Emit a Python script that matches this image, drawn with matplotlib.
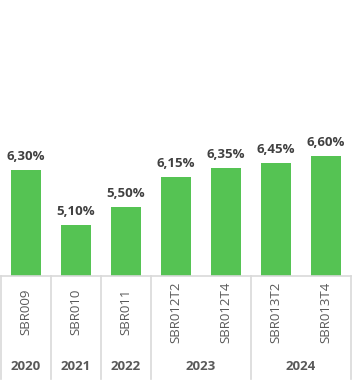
import matplotlib.pyplot as plt
import matplotlib.transforms as mtransforms

codes = ['SBR009', 'SBR010', 'SBR011', 'SBR012T2', 'SBR012T4', 'SBR013T2', 'SBR013T4']
rates = [6.30, 5.10, 5.50, 6.15, 6.35, 6.45, 6.60]
years = ['2020', '2021', '2022', '2023', '2024']
year_sizes = [1, 1, 1, 2, 2]

W, H = 355, 381
fig = plt.figure(figsize=(W / 100, H / 100), dpi=100)
ax = fig.add_axes([1 / W, (H - 276) / H, 350 / W, 276 / H])

x = list(range(len(codes)))
ax.bar(x, rates, width=0.6, color='#55C353', zorder=2)
ax.set_xlim(-0.5, len(codes) - 0.5)
ax.set_ylim(4, 10)
for s in ['top', 'left', 'right']:
    ax.spines[s].set_visible(False)
ax.spines['bottom'].set_color('#D9D9D9')
ax.spines['bottom'].set_linewidth(1.2)
ax.set_xticks([])
ax.set_yticks([])

for xi, v in zip(x, rates):
    ax.annotate(f'{v:.2f}%'.replace('.', ','), (xi, v), xytext=(0, 5),
                textcoords='offset points', ha='center', va='bottom',
                fontsize=9.5, fontweight='bold', color='#404040',
                family='Open Sans')

trans = mtransforms.blended_transform_factory(ax.transData, fig.transFigure)
y_code = 1 - 312 / H
y_year = 1 - 367 / H
for xi, c in zip(x, codes):
    ax.text(xi, y_code, c, transform=trans, rotation=90, ha='center', va='center',
            fontsize=9.5, color='#595959', family='Open Sans')

# year groups and separator lines
start = 0
bounds = [-0.5]
for yr, n in zip(years, year_sizes):
    centre = start + (n - 1) / 2
    ax.text(centre, y_year, yr, transform=trans, ha='center', va='center',
            fontsize=9.5, fontweight='bold', color='#595959', family='Open Sans')
    start += n
    bounds.append(start - 0.5)

for b in bounds:
    ax.plot([b, b], [1 - 276 / H, 1 - 379 / H], transform=trans, color='#D9D9D9',
            lw=1.2, clip_on=False)

fig.savefig('out.png', dpi=100)
